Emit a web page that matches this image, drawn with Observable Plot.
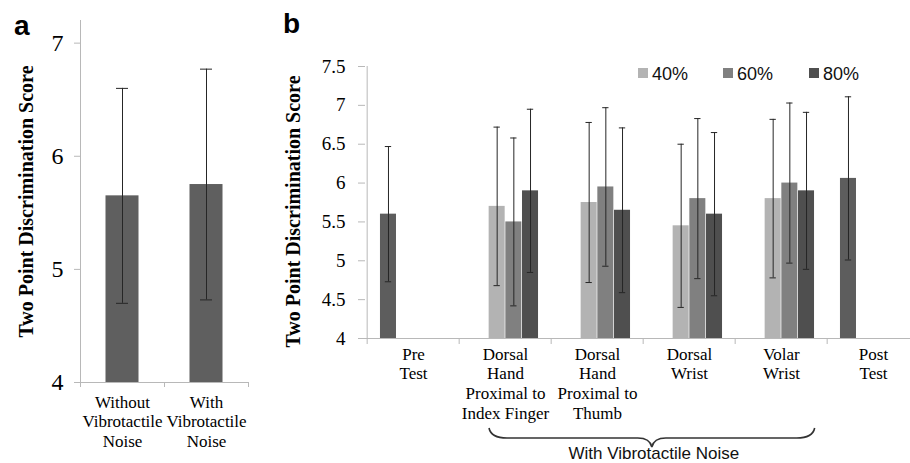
<!DOCTYPE html>
<html><head><meta charset="utf-8">
<script src="https://cdn.jsdelivr.net/npm/d3@7"></script>
<script src="https://cdn.jsdelivr.net/npm/@observablehq/plot@0.6"></script>
<style>
html,body{margin:0;padding:0;background:#fff;overflow:hidden;}
#wrap{position:relative;width:910px;height:463px;overflow:hidden;background:#fff;}
#pa{position:absolute;left:0;top:0;width:260px;height:463px;}
#pb{position:absolute;left:280px;top:0;width:651px;height:463px;}
#ov{position:absolute;left:0;top:0;pointer-events:none;}
</style></head><body>
<div id="wrap"><div id="pa"></div><div id="pb"></div><svg id="ov" width="910" height="463"></svg></div>
<script>
// ---------- data ----------
const yTitle = "Two Point Discrimination Score";

// panel a
const catsA = ["Without\nVibrotactile\nNoise", "With\nVibrotactile\nNoise"];
const meanA = [5.65, 5.75];
const errA  = [0.95, 1.02];
const ticksA = [4, 5, 6, 7];

// panel b
const catsB = ["Pre\nTest", "Dorsal\nHand\nProximal to\nIndex Finger", "Dorsal\nHand\nProximal to\nThumb", "Dorsal\nWrist", "Volar\nWrist", "Post\nTest"];
const seriesNames = ["Pre/Post", "40%", "60%", "80%"];
const valPrePost = [5.60, null, null, null, null, 6.06];
const errPrePost = [0.87, null, null, null, null, 1.05];
const val40 = [null, 5.70, 5.75, 5.45, 5.80, null];
const err40 = [null, 1.02, 1.03, 1.05, 1.02, null];
const val60 = [null, 5.50, 5.95, 5.80, 6.00, null];
const err60 = [null, 1.08, 1.02, 1.03, 1.03, null];
const val80 = [null, 5.90, 5.65, 5.60, 5.90, null];
const err80 = [null, 1.05, 1.06, 1.05, 1.01, null];
const ticksB = [4, 4.5, 5, 5.5, 6, 6.5, 7, 7.5];
const legendNames = ["40%", "60%", "80%"];
const braceLabel = "With Vibrotactile Noise";

// ---------- styles ----------
const AXIS = "#b8b8b8";
const ERR = "#262626";
const serif = "'Liberation Serif', 'Times New Roman', serif";
const sans = "'Liberation Sans', Arial, sans-serif";
const fills = {"Pre/Post": "#5d5d5d", "40%": "#b3b3b3", "60%": "#808080", "80%": "#4f4f4f"};

// ---------- panel a ----------
const WA = 260, HA = 463, mLA = 80, mRA = 12, mTA = 20, mBA = 81;
const stepA = (WA - mLA - mRA) / catsA.length;
const barWA = 33, capWA = 12;
const dataA = catsA.map((c, i) => ({cat: c, v: meanA[i], e: errA[i]}));
const plotA = Plot.plot({
  width: WA, height: HA, marginLeft: mLA, marginRight: mRA, marginTop: mTA, marginBottom: mBA,
  style: {fontFamily: serif, fontSize: "24px", color: "#000", background: "transparent", maxWidth: "none"},
  x: {type: "band", domain: catsA, padding: 0, axis: null},
  y: {domain: [4, 7.2]},
  marks: [
    Plot.ruleY([4], {stroke: AXIS}),
    Plot.ruleX([catsA[0]], {x: d => d, dx: -stepA / 2, y1: 4, y2: 7.2, stroke: AXIS}),
    Plot.ruleX(catsA, {x: d => d, dx: -stepA / 2, y1: 4, y2: 4, insetBottom: -5, stroke: AXIS}),
    Plot.ruleX([catsA[catsA.length - 1]], {x: d => d, dx: stepA / 2, y1: 4, y2: 4, insetBottom: -5, stroke: AXIS}),
    Plot.axisY({ticks: ticksA, tickSize: 6, tickPadding: 11, stroke: AXIS, label: null, tickFormat: d => String(d)}),
    Plot.barY(dataA, {x: "cat", y1: 4, y2: "v", fill: "#5f5f5f", insetLeft: (stepA - barWA) / 2, insetRight: (stepA - barWA) / 2}),
    Plot.ruleX(dataA, {x: "cat", y1: d => d.v - d.e, y2: d => d.v + d.e, stroke: ERR}),
    Plot.tickY(dataA, {x: "cat", y: d => d.v + d.e, stroke: ERR, insetLeft: (stepA - capWA) / 2, insetRight: (stepA - capWA) / 2}),
    Plot.tickY(dataA, {x: "cat", y: d => d.v - d.e, stroke: ERR, insetLeft: (stepA - capWA) / 2, insetRight: (stepA - capWA) / 2}),
    Plot.text(catsA, {x: d => d, y: 4, text: d => d, lineAnchor: "top", dy: 11, fontSize: 17, lineHeight: 1.16, fontFamily: serif, fill: "#000"}),
    Plot.text([yTitle], {frameAnchor: "left", text: d => d, textAnchor: "middle", lineAnchor: "middle", rotate: -90, dx: -54, fontWeight: "bold", fontSize: 20, fontFamily: serif, fill: "#000"})
  ]
});
document.getElementById("pa").appendChild(plotA);

// ---------- panel b ----------
const WB = 651, HB = 463, mLB = 85, mRB = 10, mTB = 66, mBB = 125;
const stepB = (WB - mLB - mRB) / catsB.length;
const barWB = stepB * 0.18, capWB = 7;
const outerB = (stepB - seriesNames.length * barWB) / 2;
const seriesVals = [valPrePost, val40, val60, val80];
const seriesErrs = [errPrePost, err40, err60, err80];
const marksB = [
  Plot.ruleY([4], {stroke: AXIS}),
  Plot.ruleX([catsB[0]], {x: d => d, dx: -stepB / 2, y1: 4, y2: 7.5, stroke: AXIS}),
  Plot.ruleX(catsB, {x: d => d, dx: -stepB / 2, y1: 4, y2: 4, insetBottom: -6, stroke: AXIS}),
  Plot.axisY({ticks: ticksB, tickSize: 7, tickPadding: 13, stroke: AXIS, label: null, tickFormat: d => String(d)})
];
seriesNames.forEach((name, k) => {
  const rows = catsB.map((c, i) => ({cat: c, v: seriesVals[k][i], e: seriesErrs[k][i]})).filter(d => d.v != null);
  const off = -stepB / 2 + outerB + barWB * (k + 0.5);
  const ins = (stepB - barWB) / 2, cins = (stepB - capWB) / 2;
  marksB.push(
    Plot.barY(rows, {x: "cat", y1: 4, y2: "v", fill: fills[name], insetLeft: ins, insetRight: ins, dx: off}),
    Plot.ruleX(rows, {x: "cat", y1: d => d.v - d.e, y2: d => d.v + d.e, stroke: ERR, dx: off}),
    Plot.tickY(rows, {x: "cat", y: d => d.v + d.e, stroke: ERR, insetLeft: cins, insetRight: cins, dx: off}),
    Plot.tickY(rows, {x: "cat", y: d => d.v - d.e, stroke: ERR, insetLeft: cins, insetRight: cins, dx: off})
  );
});
marksB.push(
  Plot.text(catsB, {x: d => d, y: 4, text: d => d, lineAnchor: "top", dy: 7, fontSize: 17, lineHeight: 1.16, fontFamily: serif, fill: "#000"}),
  Plot.text([yTitle], {frameAnchor: "left", text: d => d, textAnchor: "middle", lineAnchor: "middle", rotate: -90, dx: -72, dy: 9, fontWeight: "bold", fontSize: 20, fontFamily: serif, fill: "#000"})
);
const plotB = Plot.plot({
  width: WB, height: HB, marginLeft: mLB, marginRight: mRB, marginTop: mTB, marginBottom: mBB,
  style: {fontFamily: serif, fontSize: "19px", color: "#000", background: "transparent", maxWidth: "none"},
  x: {type: "band", domain: catsB, padding: 0, axis: null},
  y: {domain: [4, 7.5]},
  marks: marksB
});
document.getElementById("pb").appendChild(plotB);

// ---------- overlay annotations ----------
const ov = d3.select("#ov");
ov.append("text").attr("x", 14).attr("y", 35).attr("font-family", sans).attr("font-weight", "bold").attr("font-size", 28).text("a");
ov.append("text").attr("x", 283).attr("y", 33).attr("font-family", sans).attr("font-weight", "bold").attr("font-size", 28).text("b");

const legX = [638, 723, 809];
legendNames.forEach((n, i) => {
  ov.append("rect").attr("x", legX[i]).attr("y", 68).attr("width", 10).attr("height", 10).attr("fill", fills[n]);
  ov.append("text").attr("x", legX[i] + 14).attr("y", 80).attr("font-family", sans).attr("font-size", 18).attr("fill", "#111").text(n);
});

// brace under the four vibrotactile-noise categories, positioned from panel b's x scale
const OFFB = 280;
const xsB = plotB.scale("x");
const bandStart = c => (xsB && xsB.apply ? xsB.apply(c) : mLB + catsB.indexOf(c) * stepB);
const L = OFFB + bandStart(catsB[1]) + 30;
const R = OFFB + bandStart(catsB[4]) + stepB - 13;
const M = (L + R) / 2;
const yT = 428, yH = 438, yP = 447;
ov.append("path")
  .attr("d", `M${L},${yT} Q${L + 2},${yH} ${L + 18},${yH} L${M - 14},${yH} Q${M - 2},${yH} ${M},${yP} Q${M + 2},${yH} ${M + 14},${yH} L${R - 18},${yH} Q${R - 2},${yH} ${R},${yT}`)
  .attr("fill", "none").attr("stroke", "#333").attr("stroke-width", 1.6);
ov.append("text").attr("x", M + 2).attr("y", 459).attr("text-anchor", "middle").attr("font-family", sans).attr("font-size", 17).attr("fill", "#111").text(braceLabel);
</script>
</body></html>
